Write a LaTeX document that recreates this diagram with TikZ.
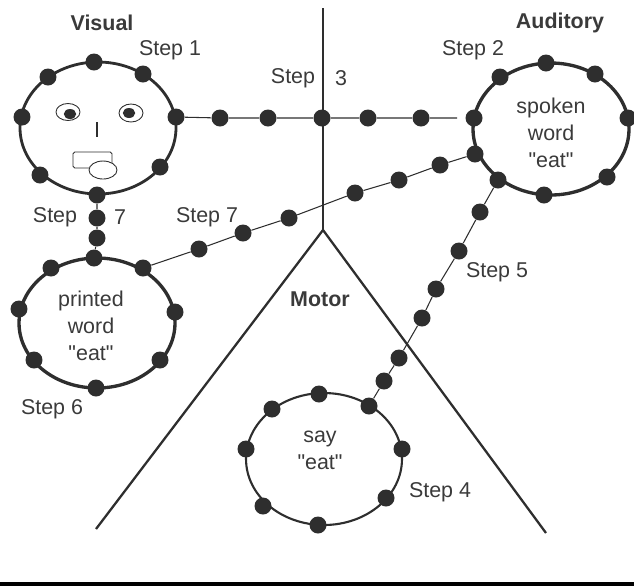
\documentclass[tikz,border=0pt]{standalone}
\usepackage{fontspec}
\setmainfont{Liberation Sans}[Ligatures=TeXOff]
\usetikzlibrary{shapes.geometric}

\definecolor{ink}{HTML}{2E2E2E}
\definecolor{txt}{HTML}{3A3A3A}

\begin{document}
\begin{tikzpicture}[
  x=0.02cm, y=-0.02cm,
  ring/.style={draw=ink, ellipse, inner sep=0pt, line width=1.6pt,
    minimum width=3.12cm, minimum height=2.64cm},
  dot/.style={circle, fill=ink, inner sep=0pt, minimum size=0.34cm},
  wire/.style={draw=ink, line width=0.6pt},
  axis/.style={draw=ink, line width=1.3pt},
  txtlabel/.style={text=txt, inner sep=0pt, align=center,
    font=\fontsize{12.2}{15.4}\selectfont},
  headlabel/.style={text=txt, inner sep=0pt, font=\fontsize{12.2}{15.4}\selectfont\bfseries},
  facepart/.style={draw=ink, line width=0.5pt, inner sep=0pt, fill=white},
]
\useasboundingbox (0,0) rectangle (634,586);

%--- Dividing lines ---
\coordinate (top)   at (323,8);
\coordinate (apex)  at (323,230);
\coordinate (footl) at (96,529);
\coordinate (footr) at (546,533);
\draw[axis] (top) -- (apex);
\draw[axis] (footl) -- (apex) -- (footr);

%--- Rings ---
\node[ring] (vis) at (98,128) {};
\node[ring, line width=1.9pt] (aud) at (551,129) {};
\node[ring, minimum height=2.6cm, line width=1.9pt] (prn) at (97,323) {};
\node[ring, line width=1.2pt] (say) at (324,459) {};

%--- Visual ring dots ---
\node[dot] (v1) at (94,62)   {};
\node[dot] (v2) at (143,74)  {};
\node[dot] (v3) at (48,77)   {};
\node[dot] (v4) at (22,117)  {};
\node[dot] (v5) at (176,117) {};
\node[dot] (v6) at (160,167) {};
\node[dot] (v7) at (40,175)  {};
\node[dot] (v8) at (97,195)  {};

%--- Auditory ring dots ---
\node[dot] (a1) at (546,63)  {};
\node[dot] (a2) at (500,77)  {};
\node[dot] (a3) at (595,74)  {};
\node[dot] (a4) at (474,118) {};
\node[dot] (a5) at (628,118) {};
\node[dot] (a6) at (475,154) {};
\node[dot] (a7) at (607,177) {};
\node[dot] (a8) at (498,180) {};
\node[dot] (a9) at (544,195) {};

%--- Printed word ring dots ---
\node[dot] (p1) at (94,258)  {};
\node[dot] (p2) at (51,268)  {};
\node[dot] (p3) at (143,268) {};
\node[dot] (p4) at (19,309)  {};
\node[dot] (p5) at (175,312) {};
\node[dot] (p6) at (34,360)  {};
\node[dot] (p7) at (160,360) {};
\node[dot] (p8) at (96,388)  {};

%--- Say ring dots ---
\node[dot] (s1) at (319,394) {};
\node[dot] (s2) at (272,409) {};
\node[dot] (s3) at (369,406) {};
\node[dot] (s4) at (246,449) {};
\node[dot] (s5) at (402,449) {};
\node[dot] (s6) at (263,506) {};
\node[dot] (s7) at (386,498) {};
\node[dot] (s8) at (318,525) {};

%--- Visual to auditory ---
\node[dot] (h1) at (220,118) {};
\node[dot] (h2) at (268,118) {};
\node[dot] (h3) at (322,118) {};
\node[dot] (h4) at (368,118) {};
\node[dot] (h5) at (421,118) {};
\coordinate (hend) at (457,118);
\draw[wire] (v5) -- (h1) -- (h2) -- (h3) -- (h4) -- (h5) -- (hend);

%--- Visual to printed word ---
\node[dot] (d1) at (97,218) {};
\node[dot] (d2) at (97,238) {};
\draw[wire] (v8) -- (d1) -- (d2) -- (p1);

%--- Printed word to auditory ---
\node[dot] (e1) at (199,249) {};
\node[dot] (e2) at (243,233) {};
\node[dot] (e3) at (289,218) {};
\node[dot] (e4) at (355,193) {};
\node[dot] (e5) at (399,180) {};
\node[dot] (e6) at (440,165) {};
\draw[wire] (p3) -- (e1) -- (e2) -- (e3) -- (e4) -- (e5) -- (e6) -- (a6);

%--- Auditory to say ---
\node[dot] (f1) at (480,212) {};
\node[dot] (f2) at (459,251) {};
\node[dot] (f3) at (436,289) {};
\node[dot] (f4) at (422,318) {};
\node[dot] (f5) at (399,358) {};
\node[dot] (f6) at (384,381) {};
\draw[wire] (a8) -- (f1) -- (f2) -- (f3) -- (f4) -- (f5) -- (f6) -- (s3);

%--- Face ---
\node[facepart, ellipse, minimum width=0.48cm, minimum height=0.34cm] (eyel) at (68,112) {};
\node[facepart, ellipse, minimum width=0.48cm, minimum height=0.36cm] (eyer) at (131,113) {};
\node[ellipse, fill=ink, inner sep=0pt, minimum width=0.25cm, minimum height=0.2cm] (pupl) at (70,114) {};
\node[ellipse, fill=ink, inner sep=0pt, minimum width=0.25cm, minimum height=0.2cm] (pupr) at (129,113) {};
\coordinate (nosea) at (97,122);
\coordinate (noseb) at (97,137);
\draw[wire] (nosea) -- (noseb);
\node[facepart, rectangle, rounded corners=1pt, minimum width=0.78cm, minimum height=0.32cm] (mouth) at (92.5,160) {};
\node[facepart, ellipse, minimum width=0.56cm, minimum height=0.36cm] (tongue) at (103,170) {};

%--- Headings ---
\node[headlabel] (hvis) at (102,23)  {Visual};
\node[headlabel] (haud) at (560,23)  {Auditory};
\node[headlabel] (hmot) at (320,299) {Motor};

%--- Step labels ---
\node[txtlabel] (st1)  at (170,50)  {Step 1};
\node[txtlabel] (st2)  at (473,50)  {Step 2};
\node[txtlabel] (st3a) at (293,78)  {Step};
\node[txtlabel] (st3b) at (341,78)  {3};
\node[txtlabel] (st4)  at (440,492) {Step 4};
\node[txtlabel] (st5)  at (497,272) {Step 5};
\node[txtlabel] (st6)  at (52,409)  {Step 6};
\node[txtlabel] (st7a) at (55,217)  {Step};
\node[txtlabel] (st7b) at (120,217) {7};
\node[txtlabel] (st7c) at (207,217) {Step 7};

%--- Ring captions ---
\node[txtlabel] (capa) at (551,133) {spoken\\word\\"eat"};
\node[txtlabel] (capp) at (91,326)  {printed\\word\\"eat"};
\node[txtlabel] (caps) at (320,450) {say\\"eat"};

%--- Bottom rule ---
\node[fill=black, inner sep=0pt, minimum width=12.68cm, minimum height=0.09cm] (rule) at (317,584) {};
\end{tikzpicture}
\end{document}
